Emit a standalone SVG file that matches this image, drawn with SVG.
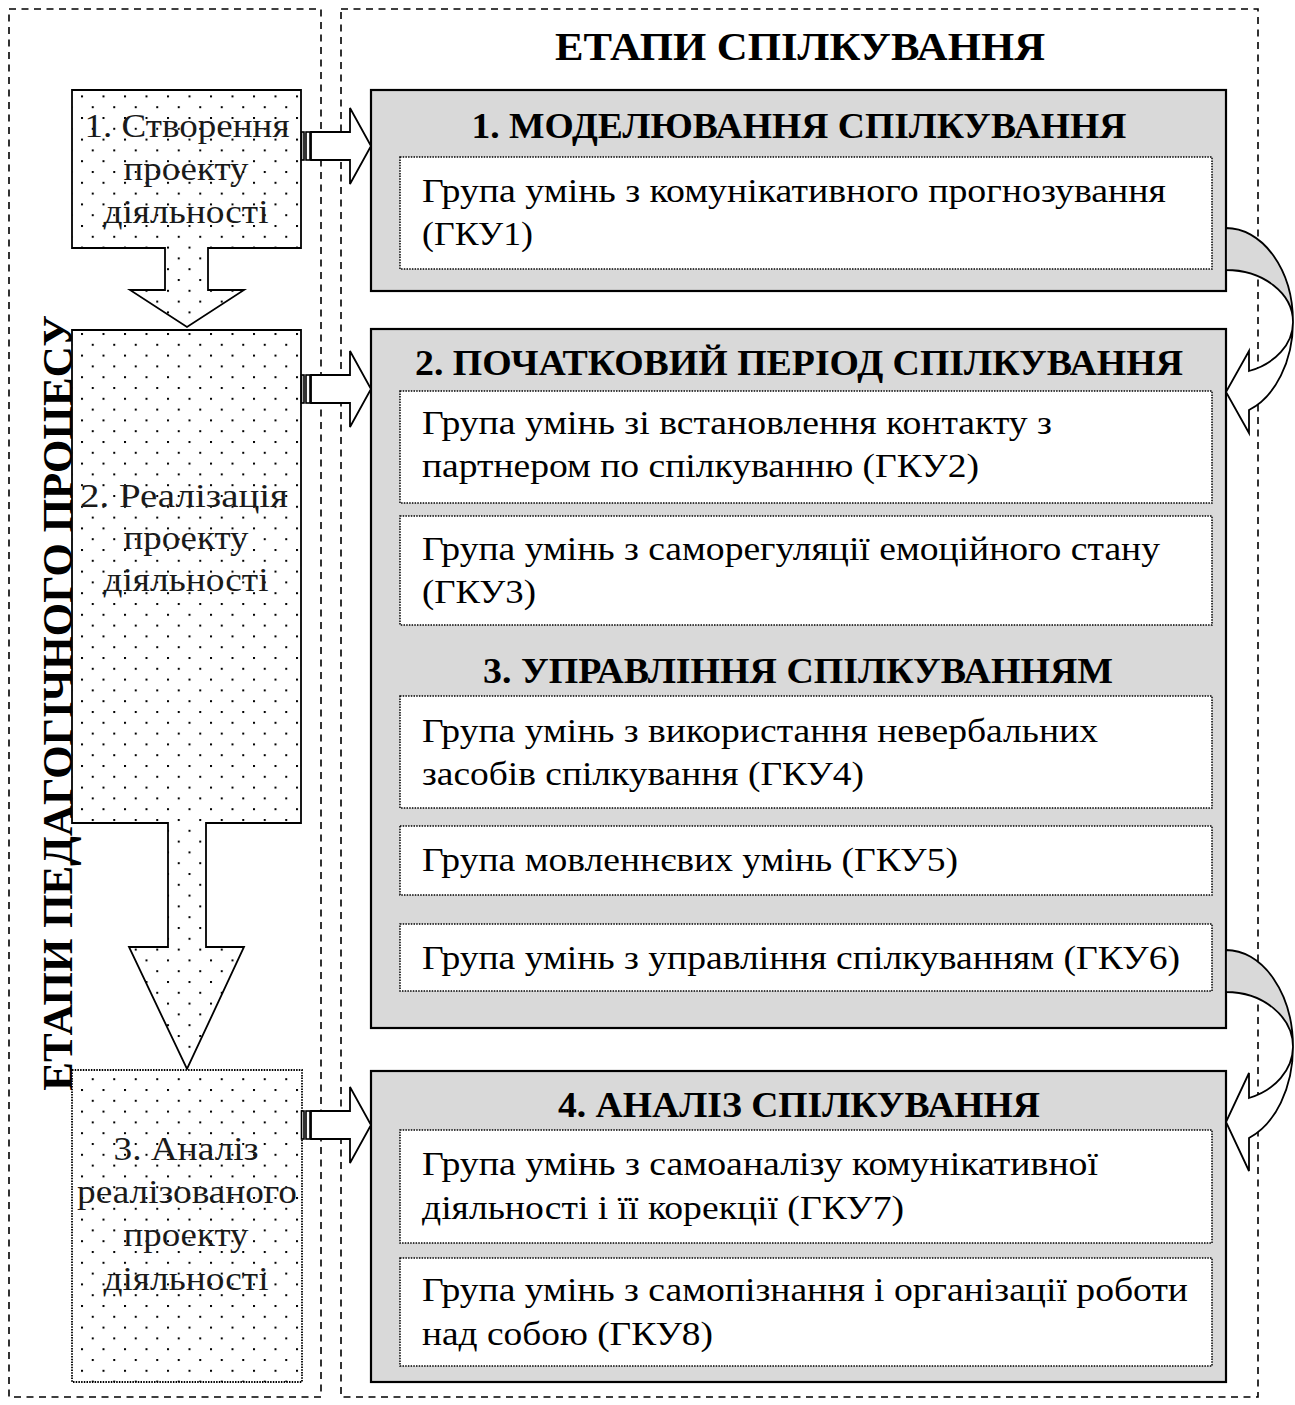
<svg xmlns="http://www.w3.org/2000/svg" width="1295" height="1405" viewBox="0 0 1295 1405">
  <style>
    .frame { fill: none; stroke: #000; stroke-width: 1.6; stroke-dasharray: 7 5.5; }
    .stage { fill: url(#dots); stroke: #000; stroke-width: 1.8; }
    .stage-dotted { fill: url(#dots); stroke: #000; stroke-width: 1.8; stroke-dasharray: 1.5 1.2; }
    .panel { fill: #d9d9d9; stroke: #000; stroke-width: 2.2; }
    .group { fill: #fff; stroke: #000; stroke-width: 1.5; stroke-dasharray: 1.5 1.2; }
    .conn { fill: #fff; stroke: #000; stroke-width: 1.8; stroke-linejoin: miter; }
    .conn-back { fill: #d9d9d9; stroke: #000; stroke-width: 1.8; }
    .bar { fill: #fff; stroke: #000; stroke-width: 1.6; }
    text { font-family: "Liberation Serif", "Times New Roman", serif; fill: #000; }
    .head { font-size: 40px; font-weight: bold; text-anchor: middle; }
    .side { font-size: 43px; font-weight: bold; text-anchor: middle; }
    .title { font-size: 35px; font-weight: bold; text-anchor: middle; }
    .body { font-size: 33px; }
    .stage-text { font-size: 34px; text-anchor: middle; fill: #1a1a1a; }
  </style>
  <defs>
    <pattern id="dots" patternUnits="userSpaceOnUse" x="81" y="333" width="21.5" height="21.6">
      <rect width="21.5" height="21.6" fill="#fff"/>
      <rect x="0" y="0" width="2" height="2" fill="#000"/>
      <rect x="10.75" y="10.8" width="2" height="2" fill="#000"/>
    </pattern>
  </defs>

  <!-- outer dashed frames -->
  <rect class="frame" x="9" y="9" width="312" height="1388"/>
  <rect class="frame" x="341" y="9" width="917" height="1388"/>

  <text class="head" x="800" y="60" textLength="490" lengthAdjust="spacingAndGlyphs">ЕТАПИ СПІЛКУВАННЯ</text>
  <text class="side" transform="translate(72,703) rotate(-90)">ЕТАПИ ПЕДАГОГІЧНОГО ПРОЦЕСУ</text>

  <!-- left column: stages of the pedagogical process -->
  <g id="stage1">
    <path class="stage" d="M72,90 H301 V248 H208 V290 H244 L187,327 L130,290 H165 V248 H72 Z"/>
    <text class="stage-text" x="187" y="137" textLength="205" lengthAdjust="spacingAndGlyphs">1. Створення</text>
    <text class="stage-text" x="186" y="180" textLength="125" lengthAdjust="spacingAndGlyphs">проекту</text>
    <text class="stage-text" x="186" y="223" textLength="165" lengthAdjust="spacingAndGlyphs">діяльності</text>
  </g>
  <g id="stage2">
    <path class="stage" d="M72,330 H301 V823 H206 V947 H244 L187,1069 L129,947 H168 V823 H72 Z"/>
    <text class="stage-text" x="184" y="507" textLength="208" lengthAdjust="spacingAndGlyphs">2. Реалізація</text>
    <text class="stage-text" x="186" y="549" textLength="125" lengthAdjust="spacingAndGlyphs">проекту</text>
    <text class="stage-text" x="186" y="591" textLength="165" lengthAdjust="spacingAndGlyphs">діяльності</text>
  </g>
  <g id="stage3">
    <rect class="stage-dotted" x="72" y="1070" width="230" height="312"/>
    <text class="stage-text" x="186" y="1160" textLength="145" lengthAdjust="spacingAndGlyphs">3. Аналіз</text>
    <text class="stage-text" x="187" y="1203" textLength="220" lengthAdjust="spacingAndGlyphs">реалізованого</text>
    <text class="stage-text" x="186" y="1246" textLength="125" lengthAdjust="spacingAndGlyphs">проекту</text>
    <text class="stage-text" x="186" y="1290" textLength="165" lengthAdjust="spacingAndGlyphs">діяльності</text>
  </g>

  <!-- right column: stages of communication -->
  <g id="panel1">
    <rect class="panel" x="371" y="90" width="855" height="201"/>
    <text class="title" x="799" y="138" textLength="655" lengthAdjust="spacingAndGlyphs">1. МОДЕЛЮВАННЯ СПІЛКУВАННЯ</text>
    <g id="gku1">
      <rect class="group" x="400" y="157" width="812" height="112"/>
      <text class="body" x="422" y="202" textLength="744" lengthAdjust="spacingAndGlyphs">Група умінь з комунікативного прогнозування</text>
      <text class="body" x="422" y="245" textLength="111" lengthAdjust="spacingAndGlyphs">(ГКУ1)</text>
    </g>
  </g>

  <g id="panel2">
    <rect class="panel" x="371" y="329" width="855" height="699"/>
    <text class="title" x="799" y="375" textLength="768" lengthAdjust="spacingAndGlyphs">2. ПОЧАТКОВИЙ ПЕРІОД СПІЛКУВАННЯ</text>
    <g id="gku2">
      <rect class="group" x="400" y="391" width="812" height="112"/>
      <text class="body" x="422" y="434" textLength="630" lengthAdjust="spacingAndGlyphs">Група умінь зі встановлення контакту з</text>
      <text class="body" x="422" y="477" textLength="557" lengthAdjust="spacingAndGlyphs">партнером по спілкуванню (ГКУ2)</text>
    </g>
    <g id="gku3">
      <rect class="group" x="400" y="516" width="812" height="109"/>
      <text class="body" x="422" y="560" textLength="738" lengthAdjust="spacingAndGlyphs">Група умінь з саморегуляції емоційного стану</text>
      <text class="body" x="422" y="603" textLength="114" lengthAdjust="spacingAndGlyphs">(ГКУ3)</text>
    </g>
    <text class="title" x="798" y="683" textLength="630" lengthAdjust="spacingAndGlyphs">3. УПРАВЛІННЯ СПІЛКУВАННЯМ</text>
    <g id="gku4">
      <rect class="group" x="400" y="696" width="812" height="112"/>
      <text class="body" x="422" y="742" textLength="676" lengthAdjust="spacingAndGlyphs">Група умінь з використання невербальних</text>
      <text class="body" x="422" y="785" textLength="442" lengthAdjust="spacingAndGlyphs">засобів спілкування (ГКУ4)</text>
    </g>
    <g id="gku5">
      <rect class="group" x="400" y="826" width="812" height="69"/>
      <text class="body" x="422" y="871" textLength="536" lengthAdjust="spacingAndGlyphs">Група мовленнєвих умінь (ГКУ5)</text>
    </g>
    <g id="gku6">
      <rect class="group" x="400" y="924" width="812" height="67"/>
      <text class="body" x="422" y="969" textLength="758" lengthAdjust="spacingAndGlyphs">Група умінь з управління спілкуванням (ГКУ6)</text>
    </g>
  </g>

  <g id="panel3">
    <rect class="panel" x="371" y="1071" width="855" height="311"/>
    <text class="title" x="799" y="1117" textLength="482" lengthAdjust="spacingAndGlyphs">4. АНАЛІЗ СПІЛКУВАННЯ</text>
    <g id="gku7">
      <rect class="group" x="400" y="1130" width="812" height="113"/>
      <text class="body" x="422" y="1175" textLength="676" lengthAdjust="spacingAndGlyphs">Група умінь з самоаналізу комунікативної</text>
      <text class="body" x="422" y="1219" textLength="482" lengthAdjust="spacingAndGlyphs">діяльності і її корекції (ГКУ7)</text>
    </g>
    <g id="gku8">
      <rect class="group" x="400" y="1258" width="812" height="108"/>
      <text class="body" x="422" y="1301" textLength="766" lengthAdjust="spacingAndGlyphs">Група умінь з самопізнання і організації роботи</text>
      <text class="body" x="422" y="1345" textLength="291" lengthAdjust="spacingAndGlyphs">над собою (ГКУ8)</text>
    </g>
  </g>

  <!-- connectors -->
  <g id="connectors">
    <!-- striped block arrows, left stages to right stages -->
    <g id="link-1">
      <rect class="bar" x="301.5" y="132" width="2.5" height="28"/>
      <rect class="bar" x="306" y="132" width="4" height="28"/>
      <path class="conn" d="M311,132 H350 V108 L371,146 L350,184 V160 H311 Z"/>
    </g>
    <g id="link-2">
      <rect class="bar" x="301.5" y="375" width="2.5" height="28"/>
      <rect class="bar" x="306" y="375" width="4" height="28"/>
      <path class="conn" d="M311,375 H350 V351 L371,389 L350,427 V403 H311 Z"/>
    </g>
    <g id="link-3">
      <rect class="bar" x="301.5" y="1111" width="2.5" height="28"/>
      <rect class="bar" x="306" y="1111" width="4" height="28"/>
      <path class="conn" d="M311,1111 H350 V1087 L371,1125 L350,1163 V1139 H311 Z"/>
    </g>

    <!-- curved arrow from panel 1 to panel 2 -->
    <g id="curve-1">
      <path class="conn-back" d="M1226,228 A67,94 0 0 1 1293,322 A67,52 0 0 0 1226,270 Z"/>
      <path class="conn" d="M1293,322 A67,94 0 0 1 1249,410 V433 L1226,392 L1249,351 V371 A67,52 0 0 0 1293,322 Z"/>
    </g>
    <!-- curved arrow from panel 2 to panel 4 -->
    <g id="curve-2">
      <path class="conn-back" d="M1226,950 A67,97 0 0 1 1293,1047 A67,55 0 0 0 1226,992 Z"/>
      <path class="conn" d="M1293,1047 A67,97 0 0 1 1249,1138 V1171 L1226,1122 L1249,1073 V1098 A67,55 0 0 0 1293,1047 Z"/>
    </g>
  </g>
</svg>
